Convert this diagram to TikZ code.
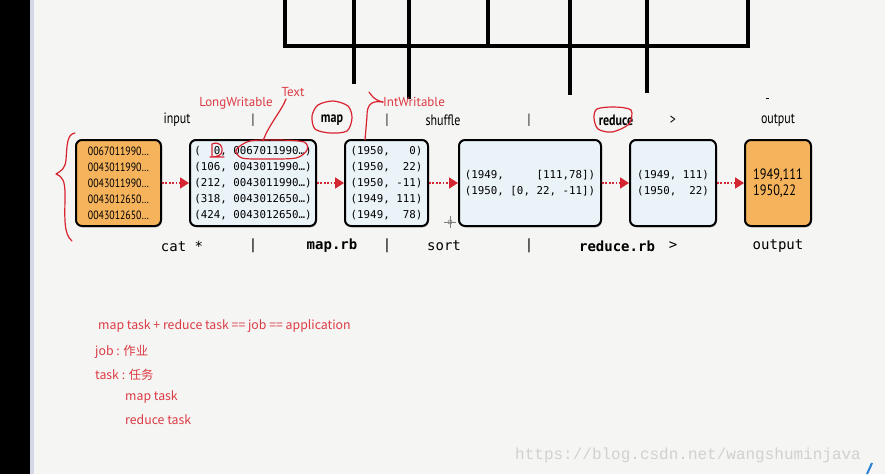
\documentclass[tikz,border=0pt]{standalone}
\usepackage{fontspec}
\usetikzlibrary{arrows.meta,shadows}
\setmainfont{PT Sans}
\setmonofont{DejaVu Sans Mono}
\newfontfamily\narrowfont[FakeStretch=0.8]{PT Sans}
\newfontfamily\boxfont[FakeStretch=0.82]{PT Sans}
\newfontfamily\cjkfont{Noto Sans CJK SC}
\newfontfamily\wmfont{Liberation Mono}
\definecolor{paper}{HTML}{F5F5F3}
\definecolor{edgestrip}{HTML}{D3D7E6}
\definecolor{lightbox}{HTML}{EAF3F8}
\definecolor{orangebox}{HTML}{F5B45C}
\definecolor{flowred}{HTML}{D42630}
\definecolor{penred}{HTML}{D8232F}
\definecolor{notered}{HTML}{DC3A44}
\tikzset{box/.style={draw, line width=2pt, rounded corners=6pt,
  minimum height=86pt, inner sep=3pt, align=left,
  drop shadow={opacity=0.3, shadow xshift=1pt, shadow yshift=-1.5pt},
  font=\ttfamily\fontsize{10.8}{16}\selectfont},
  kvbox/.style={box, fill=lightbox},
  filebox/.style={box, fill=orangebox, font=\boxfont\fontsize{12}{16}\selectfont},
  toplbl/.style={font=\narrowfont\fontsize{15}{17}\selectfont},
  botlbl/.style={font=\ttfamily\fontsize{14}{16}\selectfont},
  flow/.style={draw=flowred, line width=1.7pt, dash pattern=on 1.7pt off 1.7pt,
    -{Triangle[length=9pt, width=11pt]}},
  pen/.style={draw=penred, line width=1.2pt, line cap=round, line join=round},
  annot/.style={text=notered, font=\fontsize{13}{15}\selectfont},
  note/.style={text=notered, anchor=west, font=\cjkfont\fontsize{12.3}{14}\selectfont}}

\begin{document}
\begin{tikzpicture}[x=1pt, y=-1pt, every node/.style={inner sep=0pt}]
  \useasboundingbox (0,0) rectangle (885,474);
  \fill[paper] (0,0) rectangle (885,474);
  \fill[black] (0,0) rectangle (30,474);
  \fill[edgestrip] (30,0) rectangle (34,474);

  % black frame at the top
  \draw[line width=3.5pt] (285,-5) -- (285,46) -- (748,46) -- (748,-5);
  \draw[line width=3.5pt] (354,-5) -- (354,84);
  \draw[line width=3.5pt] (409,-5) -- (409,99);
  \draw[line width=3.5pt] (488,-5) -- (488,46);
  \draw[line width=3.5pt] (570,-5) -- (570,95);
  \draw[line width=3.5pt] (647,-5) -- (647,93);
  \draw[line width=0.9pt] (765.5,98) -- (768.5,98);

  % header row
  \node[toplbl] (tin)   at (177,120) {input};
  \node[toplbl] (tsep1) at (253,120) {|};
  \node[toplbl] (tmap)  at (332,120) {\bfseries map};
  \node[toplbl] (tsep2) at (387,120) {|};
  \node[toplbl] (tshuf) at (443,120) {shuffle};
  \node[toplbl] (tsep3) at (529,120) {|};
  \node[toplbl] (tred)  at (616,120) {\bfseries reduce};
  \node[toplbl] (tgt)   at (673,120) {>};
  \node[toplbl] (tout)  at (778,120) {output};

  % boxes
  \node[filebox, minimum width=85pt] (input) at (118.5,183)
    {0067011990…\\0043011990…\\0043011990…\\0043012650…\\0043012650…};
  \node[kvbox, minimum width=126pt] (mapin) at (253,183)
    {(~~0,~0067011990…)\\(106,~0043011990…)\\(212,~0043011990…)\\(318,~0043012650…)\\(424,~0043012650…)};
  \node[kvbox, minimum width=83pt] (mapout) at (386.5,183)
    {(1950,~~~0)\\(1950,~~22)\\(1950,~-11)\\(1949,~111)\\(1949,~~78)};
  \node[kvbox, minimum width=142pt] (shuf) at (530,183)
    {(1949,~~~~~[111,78])\\(1950,~[0,~22,~-11])};
  \node[kvbox, minimum width=86pt] (redout) at (673,183)
    {(1949,~111)\\(1950,~~22)};
  \node[filebox, minimum width=66pt, font=\boxfont\fontsize{15}{16}\selectfont] (output) at (778,183)
    {1949,111\\1950,22};

  \draw[flow] (input) -- (mapin);
  \draw[flow] (mapin) -- (mapout);
  \draw[flow] (mapout) -- (shuf);
  \draw[flow] (shuf) -- (redout);
  \draw[flow] (redout) -- (output);

  % footer row
  \node[botlbl] (bcat)  at (182,246) {cat *};
  \node[botlbl] (bsep1) at (253,246) {|};
  \node[botlbl] (bmap)  at (332,246) {\bfseries map.rb};
  \node[botlbl] (bsep2) at (387,246) {|};
  \node[botlbl] (bsort) at (444,246) {sort};
  \node[botlbl] (bsep3) at (529,246) {|};
  \node[botlbl] (bred)  at (617,246) {\bfseries reduce.rb};
  \node[botlbl] (bgt)   at (673,246) {>};
  \node[botlbl] (bout)  at (778,246) {output};

  % red pen notes
  \node[annot] (lw)   at (236,103) {LongWritable};
  \node[annot] (txt)  at (293,92)  {Text};
  \node[annot] (iw)   at (414,102) {IntWritable};
  \draw[pen] (75,133) .. controls (67,134) and (67,145) .. (66,160)
    .. controls (65,169) and (61,171) .. (56,174)
    .. controls (63,177) and (65,181) .. (65,195)
    .. controls (65,215) and (63,234) .. (72,241);
  \draw[pen] plot[smooth cycle] coordinates {(318,105) (333,101) (348,106) (352,118)
    (347,131) (330,133) (315,129) (312,116)};
  \draw[pen] plot[smooth cycle] coordinates {(597,109) (614,107) (631,110) (629,124)
    (612,132) (598,129) (594,118)};
  \draw[pen] (212,157) -- (212,144) .. controls (219,141) and (223,146) .. (222,151)
    .. controls (222,155) and (218,157) .. (210,157) -- (224,157);
  \draw[pen] plot[smooth cycle] coordinates {(236,150) (250,141) (280,140) (304,142)
    (307,150) (296,158) (265,159) (242,158)};
  \draw[pen] (286,99) .. controls (282,110) and (268,126) .. (263,141);
  \draw[pen] (369,92) .. controls (372,96) and (374,100) .. (iw.west);
  \draw[pen] (iw.west) .. controls (370,100) and (367,106) .. (367,116) -- (365,140);

  % mouse cursor
  \draw[gray, line width=0.6pt] (444,222) -- (456,222) (450,216) -- (450,228);
  \draw[gray, line width=0.6pt] (450,222) circle (2);

  % notes below
  \node[note] (n1) at (98,326)  {map task + reduce task == job == application};
  \node[note] (n2) at (95,352)  {job : 作业};
  \node[note] (n3) at (95,375)  {task : 任务};
  \node[note] (n4) at (125,397) {map task};
  \node[note] (n5) at (125,420) {reduce task};

  \node[anchor=west, text=black!18, font=\wmfont\fontsize{16}{18}\selectfont] (wm)
    at (515,455) {https://blog.csdn.net/wangshuminjava};
  \draw[line width=2pt, color={rgb,255:red,40;green,128;blue,210}] (872,463) -- (867,474);
\end{tikzpicture}
\end{document}
